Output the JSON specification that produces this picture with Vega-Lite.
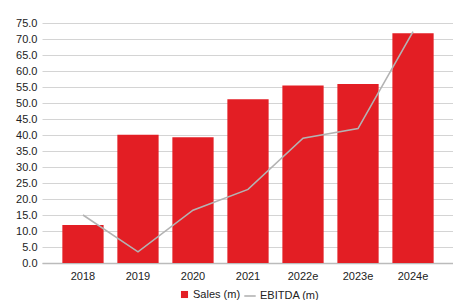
{
  "$schema": "https://vega.github.io/schema/vega-lite/v6.json",
  "width": 412,
  "height": 240,
  "autosize": {"type": "none"},
  "padding": {"left": 42, "top": 23, "right": 0, "bottom": 37},
  "background": "white",
  "config": {
    "view": {"stroke": null},
    "font": "Liberation Sans",
    "axis": {"labelFont": "Liberation Sans", "labelFontSize": 11, "labelColor": "#222222", "ticks": false, "title": null},
    "legend": {"labelFont": "Liberation Sans", "labelFontSize": 11, "labelColor": "#222222"}
  },
  "data": {
    "values": [
      {"year": "2018", "sales": 11.9, "ebitda": 15.0},
      {"year": "2019", "sales": 40.1, "ebitda": 3.5},
      {"year": "2020", "sales": 39.3, "ebitda": 16.5},
      {"year": "2021", "sales": 51.2, "ebitda": 23.0},
      {"year": "2022e", "sales": 55.5, "ebitda": 39.0},
      {"year": "2023e", "sales": 55.9, "ebitda": 42.0},
      {"year": "2024e", "sales": 71.8, "ebitda": 72.3}
    ]
  },
  "encoding": {
    "x": {
      "field": "year", "type": "ordinal", "sort": null,
      "scale": {"paddingInner": 0.25, "paddingOuter": 0.37},
      "axis": {"labelAngle": 0, "domainColor": "#bbbbbb", "domainWidth": 1.5, "labelPadding": 7, "grid": false}
    },
    "y": {
      "type": "quantitative",
      "scale": {"domain": [0, 75], "nice": false},
      "axis": {"values": [0,5,10,15,20,25,30,35,40,45,50,55,60,65,70,75], "format": ".1f", "domain": false, "gridColor": "#d4d4d4", "labelPadding": 5}
    }
  },
  "layer": [
    {
      "mark": {"type": "bar", "color": "#e31e24"},
      "encoding": {
        "y": {
          "field": "sales", "type": "quantitative",
          "scale": {"domain": [0, 75], "nice": false},
          "axis": {"values": [0,5,10,15,20,25,30,35,40,45,50,55,60,65,70,75], "format": ".1f", "domain": false, "gridColor": "#d4d4d4", "labelPadding": 5}
        },
        "color": {
          "datum": "Sales (m)",
          "scale": {"range": ["#e31e24"]},
          "legend": {"title": null, "orient": "none", "legendX": 137, "legendY": 266, "symbolType": "square", "symbolSize": 50, "symbolStrokeWidth": 0, "labelOffset": 3}
        }
      }
    },
    {
      "mark": {"type": "line", "color": "#b3b3b3", "strokeWidth": 1.6},
      "encoding": {
        "y": {
          "field": "ebitda", "type": "quantitative",
          "scale": {"domain": [0, 75], "nice": false},
          "axis": {"values": [0,5,10,15,20,25,30,35,40,45,50,55,60,65,70,75], "format": ".1f", "domain": false, "gridColor": "#d4d4d4", "labelPadding": 5}
        },
        "color": {
          "datum": "EBITDA (m)",
          "scale": {"range": ["#b3b3b3"]},
          "legend": {"title": null, "orient": "none", "legendX": 201, "legendY": 266, "symbolType": "stroke", "symbolSize": 130, "symbolStrokeWidth": 1.6, "labelOffset": 3}
        }
      }
    }
  ],
  "resolve": {"scale": {"color": "independent", "y": "shared"}}
}
